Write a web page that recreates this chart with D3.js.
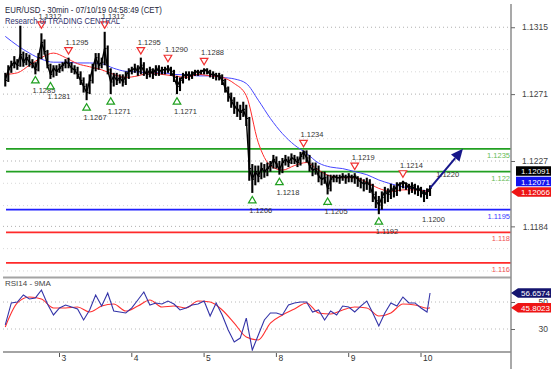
<!DOCTYPE html>
<html><head><meta charset="utf-8">
<script src="https://cdn.jsdelivr.net/npm/d3@7/dist/d3.min.js"></script>
<style>
body{margin:0;background:#fff}
svg{display:block}
text{font-family:"Liberation Sans",Arial,Helvetica,sans-serif}
</style>
</head><body>
<svg id="c" width="554" height="369"></svg>
<script>
// ---------- DATA ----------
const firstBarDay = 0.25;          // Jul 2, 06:00 (day 0 = Jul 2 00:00)
const barStepDays = 1 / 24;
const closes = [
1.1280,1.1287,1.1290,1.1292,1.1290,1.1297,1.1292,1.1295,1.1292,1.1291,
1.1287,1.1295,1.1305,1.1299,1.1290,1.1284,1.1288,1.1286,1.1288,1.1290,
1.1292,1.1291,1.1288,1.1287,1.1284,1.1280,1.1276,1.1272,1.1280,1.1288,
1.1295,1.1290,1.1292,1.1301,1.1287,1.1279,1.1283,1.1280,1.1282,1.1279,
1.1283,1.1286,1.1287,1.1288,1.1286,1.1290,1.1286,1.1284,1.1287,1.1284,
1.1288,1.1286,1.1287,1.1287,1.1288,1.1286,1.1282,1.1276,1.1280,1.1283,
1.1284,1.1283,1.1284,1.1286,1.1285,1.1286,1.1287,1.1286,1.1284,1.1284,
1.1283,1.1283,1.1280,1.1275,1.1271,1.1267,1.1263,1.1261,1.1259,1.1261,
1.1255,1.1222,1.1215,1.1220,1.1217,1.1222,1.1220,1.1222,1.1224,1.1228,
1.1225,1.1221,1.1226,1.1228,1.1226,1.1229,1.1228,1.1226,1.1230,1.1233,
1.1229,1.1224,1.1221,1.1222,1.1217,1.1215,1.1216,1.1209,1.1215,1.1217,
1.1216,1.1216,1.1217,1.1216,1.1217,1.1216,1.1217,1.1215,1.1213,1.1212,
1.1213,1.1211,1.1205,1.1201,1.1198,1.1203,1.1207,1.1205,1.1209,1.1207,
1.1211,1.1212,1.1213,1.1212,1.1209,1.1211,1.1208,1.1209,1.1207,1.1205,
1.1207,1.12091];
const highs = [
1.1285,1.1290,1.1293,1.1296,1.1294,1.1316,1.1299,1.1298,1.1297,1.1294,
1.1292,1.1298,1.1311,1.1307,1.1300,1.1291,1.1290,1.1290,1.1291,1.1292,
1.1294,1.1295,1.1292,1.1290,1.1289,1.1286,1.1282,1.1278,1.1284,1.1291,
1.1298,1.1298,1.1295,1.1312,1.1303,1.1288,1.1285,1.1285,1.1284,1.1284,
1.1286,1.1288,1.1289,1.1291,1.1290,1.1295,1.1292,1.1288,1.1289,1.1288,
1.1290,1.1290,1.1289,1.1289,1.1290,1.1289,1.1287,1.1283,1.1282,1.1285,
1.1286,1.1286,1.1286,1.1287,1.1287,1.1287,1.1288,1.1288,1.1287,1.1286,
1.1285,1.1285,1.1284,1.1281,1.1276,1.1272,1.1269,1.1266,1.1264,1.1266,
1.1264,1.1256,1.1225,1.1224,1.1224,1.1226,1.1225,1.1226,1.1227,1.1231,
1.1230,1.1227,1.1229,1.1231,1.1230,1.1232,1.1231,1.1230,1.1233,1.1234,
1.1234,1.1231,1.1226,1.1226,1.1224,1.1220,1.1220,1.1218,1.1218,1.1218,
1.1218,1.1218,1.1219,1.1218,1.1219,1.1218,1.1219,1.1217,1.1216,1.1215,
1.1216,1.1215,1.1212,1.1207,1.1204,1.1207,1.1210,1.1209,1.1212,1.1211,
1.1213,1.1213,1.1214,1.1213,1.1212,1.1213,1.1212,1.1211,1.1210,1.1208,
1.1209,1.1211];
const lows = [
1.1276,1.1279,1.1285,1.1288,1.1287,1.1289,1.1289,1.1290,1.1289,1.1288,
1.1284,1.1286,1.1294,1.1297,1.1288,1.1281,1.1282,1.1283,1.1285,1.1286,
1.1288,1.1288,1.1285,1.1284,1.1281,1.1277,1.1272,1.1267,1.1271,1.1278,
1.1286,1.1287,1.1288,1.1290,1.1284,1.1271,1.1276,1.1277,1.1278,1.1276,
1.1277,1.1281,1.1284,1.1285,1.1283,1.1284,1.1283,1.1281,1.1282,1.1281,
1.1283,1.1283,1.1284,1.1284,1.1285,1.1283,1.1279,1.1271,1.1273,1.1278,
1.1281,1.1280,1.1281,1.1283,1.1283,1.1284,1.1284,1.1284,1.1282,1.1281,
1.1280,1.1280,1.1277,1.1272,1.1266,1.1262,1.1258,1.1256,1.1254,1.1256,
1.1250,1.1214,1.1206,1.1211,1.1213,1.1215,1.1216,1.1217,1.1220,1.1222,
1.1222,1.1218,1.1219,1.1224,1.1223,1.1225,1.1225,1.1223,1.1224,1.1228,
1.1226,1.1220,1.1217,1.1218,1.1213,1.1211,1.1212,1.1205,1.1207,1.1213,
1.1213,1.1212,1.1214,1.1212,1.1213,1.1213,1.1212,1.1210,1.1209,1.1207,
1.1208,1.1206,1.1200,1.1196,1.1192,1.1195,1.1199,1.1200,1.1202,1.1203,
1.1204,1.1207,1.1209,1.1208,1.1205,1.1206,1.1205,1.1204,1.1203,1.1200,
1.1202,1.1204];

// moving averages sampled every 4 bars (+ last bar)
const maIdx = d3.range(0, 141, 4).concat([141]);
const maSlow = [1.1309,1.1303,1.1298,1.1294,1.1292,1.1292,1.12915,1.12915,1.1291,1.1288,
1.1286,1.12856,1.1285,1.1285,1.1284,1.12836,1.1283,1.1283,1.1282,1.1281,
1.1278,1.1267,1.1255,1.1245,1.12375,1.1232,1.12257,1.1223,1.1222,1.1220,
1.1218,1.12145,1.1212,1.1210,1.12086,1.12073,1.12071];
const maFast = [1.1284,1.1285,1.1290,1.1295,1.1298,1.1295,1.1291,1.1289,1.1287,1.1284,
1.1282,1.1283,1.1285,1.1284,1.1283,1.1282,1.1284,1.1283,1.1282,1.1278,
1.1270,1.1239,1.1224,1.1221,1.1224,1.1226,1.1221,1.1217,1.1216,1.1216,
1.1213,1.1209,1.1207,1.1208,1.1208,1.1207,1.12066];

// RSI sampled every 2 bars (+ last bar), its MA every 4 bars (+ last bar)
const rsiIdx = d3.range(0, 141, 2).concat([141]);
const rsi = [33.0,49.3,50.0,55.2,52.2,53.0,58.9,48.5,40.4,45.6,
47.8,46.3,44.8,36.7,44.1,55.2,47.0,56.7,43.3,42.6,
41.9,45.6,51.5,57.4,47.8,49.3,48.5,50.7,48.5,44.1,
45.6,47.8,48.5,50.7,39.6,49.3,40.4,29.3,20.4,23.3,
38.1,14.4,25.6,36.7,41.9,41.9,40.4,47.8,49.3,50.0,
50.0,42.6,44.1,36.7,43.3,40.4,47.0,46.3,42.6,47.0,
50.7,41.9,32.2,41.9,49.3,47.0,53.7,49.3,49.3,45.6,
42.6,56.6574];
const rsiMA = [31.5,49.3,53.7,52.2,45.6,45.6,46.3,42.6,47.0,48.5,
43.3,47.0,51.5,46.3,47.0,45.6,50.7,50.0,44.1,34.4,
24.1,21.9,34.4,40.4,44.8,49.3,41.9,41.1,44.1,46.3,
45.6,39.6,41.9,48.5,47.8,45.4,45.8023];

// swing highs / lows (bar index, price)
const swingHighIdx = [12,21,33,45,54,66,99,116,132];
const swingHighVal = [1.1312,1.1295,1.1312,1.1295,1.1290,1.1288,1.1234,1.1219,1.1214];
const swingLowIdx  = [10,15,27,35,57,82,91,107,124];
const swingLowVal  = [1.1285,1.1281,1.1267,1.1271,1.1271,1.1206,1.1218,1.1205,1.1192];
const extraLowIdx = [139];
const extraLowVal = [1.1200];
const noteDay = [6.21];
const noteVal = [1.1220];

// key levels
const levels = [1.1235, 1.1220, 1.1195, 1.1180, 1.1160];
const levelKind = ["res","res","pivot","sup","sup"];

// axis
const priceTicks = [1.1315, 1.1271, 1.1227, 1.1184];
const dayTicks = [1, 2, 3, 4, 5, 6];
const dayLabels = ["3","4","5","8","9","10"];
const rsiTicks = [50, 30];

// projection arrow target
const targetDay = 6.58, targetVal = 1.1235;

// last-value tags (first one sits on its value, others stack away from it)
const priceTags = [
  {v: 1.12066, txt: "1.12066", kind: "fast"},
  {v: 1.12071, txt: "1.12071", kind: "slow"},
  {v: 1.12091, txt: "1.12091", kind: "close"}];
const rsiTags = [
  {v: 56.6574, txt: "56.6574", kind: "rsi"},
  {v: 45.8023, txt: "45.8023", kind: "rsima"}];

// ---------- DRAW ----------
const svg = d3.select("#c");
const X0 = 3, X1 = 511, MAIN_B = 277.5, RSI_B = 352;

const x = d3.scaleLinear().domain([1, 6]).range([59.5, 421]);
const y = d3.scaleLinear().domain([1.1150, 1.1330]).range([278.04, 4.44]);
const yr = d3.scaleLinear().domain([30, 50]).range([329, 302]);
const barDay = i => firstBarDay + i * barStepDays;
const bx = i => x(barDay(i));

const defs = svg.append("defs");
defs.append("clipPath").attr("id","cm").append("rect")
  .attr("x",X0).attr("y",0).attr("width",X1-X0).attr("height",MAIN_B);
defs.append("clipPath").attr("id","cr").append("rect")
  .attr("x",X0).attr("y",MAIN_B).attr("width",X1-X0).attr("height",RSI_B-MAIN_B);

// grid main
const gMain = svg.append("g").attr("clip-path","url(#cm)");
const minor = [];
for (let k = 0; k < priceTicks.length; k++) {
  const step = (priceTicks[0]-priceTicks[1]) / 3;
  minor.push(priceTicks[k]-step, priceTicks[k]-2*step);
}
gMain.selectAll("line.mn").data(minor).join("line")
  .attr("x1",X0).attr("x2",X1).attr("y1",d=>y(d)).attr("y2",d=>y(d))
  .attr("stroke","#d8d8d8").attr("stroke-dasharray","1,3").attr("stroke-width",1);
gMain.selectAll("line.mj").data(priceTicks).join("line")
  .attr("x1",X0).attr("x2",X1).attr("y1",d=>y(d)).attr("y2",d=>y(d))
  .attr("stroke","#b0b0b0").attr("stroke-dasharray","1,3").attr("stroke-width",1);

// levels
const levelColor = {res:"#22a022", pivot:"#1f1fff", sup:"#ff2a2a"};
const levelText = {res:"#66bb55", pivot:"#3a3aff", sup:"#f05555"};
gMain.selectAll("line.lv").data(levels).join("line")
  .attr("x1",6).attr("x2",X1).attr("y1",d=>y(d)).attr("y2",d=>y(d))
  .attr("stroke",(d,i)=>levelColor[levelKind[i]]).attr("stroke-width",1.8);
gMain.selectAll("text.lv").data(levels).join("text")
  .attr("x",X1-1).attr("y",d=>y(d)+9).attr("text-anchor","end")
  .attr("font-size",7.5).attr("fill",(d,i)=>levelText[levelKind[i]])
  .text(d=>String(+d));

// moving averages
const maLine = d3.line().x((d,k)=>bx(maIdx[k])).y(d=>y(d)).curve(d3.curveMonotoneX);
gMain.append("path").datum(maSlow).attr("d",maLine).attr("fill","none")
  .attr("stroke","#4646ff").attr("stroke-width",1);
gMain.append("path").datum(maFast).attr("d",maLine).attr("fill","none")
  .attr("stroke","#ff2b2b").attr("stroke-width",1);

// price bars
gMain.append("path").datum(closes)
  .attr("d", d3.line().x((d,i)=>bx(i)).y(d=>y(d)))
  .attr("fill","none").attr("stroke","#000").attr("stroke-width",1.4);
gMain.selectAll("line.bar").data(closes).join("line")
  .attr("x1",(d,i)=>bx(i)).attr("x2",(d,i)=>bx(i))
  .attr("y1",(d,i)=>y(highs[i])).attr("y2",(d,i)=>y(lows[i]))
  .attr("stroke","#000").attr("stroke-width",2.1);
gMain.selectAll("line.cl").data(closes).join("line")
  .attr("x1",(d,i)=>bx(i)).attr("x2",(d,i)=>bx(i)+1.8)
  .attr("y1",d=>y(d)).attr("y2",d=>y(d))
  .attr("stroke","#000").attr("stroke-width",1.2);

// swing markers
const fmt4 = d3.format(".4f");
const labStyle = s => s.attr("font-size",7.5).attr("fill","#333");
swingHighIdx.forEach((bi,k)=>{
  const cx = bx(bi), cy = y(swingHighVal[k]) - 7;
  gMain.append("path").attr("d",`M${cx-3.8},${cy-3} L${cx+3.8},${cy-3} L${cx},${cy+3.5} Z`)
    .attr("fill","#fff").attr("stroke","#f03030").attr("stroke-width",1.2);
  labStyle(gMain.append("text").attr("x",cx-3).attr("y",cy-6).text(fmt4(swingHighVal[k])));
});
swingLowIdx.forEach((bi,k)=>{
  const cx = bx(bi), cy = y(swingLowVal[k]) + 7;
  gMain.append("path").attr("d",`M${cx-3.8},${cy+3} L${cx+3.8},${cy+3} L${cx},${cy-3.5} Z`)
    .attr("fill","#fff").attr("stroke","#20a020").attr("stroke-width",1.2);
  labStyle(gMain.append("text").attr("x",cx-3).attr("y",cy+13).text(fmt4(swingLowVal[k])));
});
extraLowIdx.forEach((bi,k)=>{
  labStyle(gMain.append("text").attr("x",bx(bi)-2).attr("y",y(extraLowVal[k])+20).text(fmt4(extraLowVal[k])));
});
noteDay.forEach((d,k)=>{
  labStyle(gMain.append("text").attr("x",x(d)).attr("y",y(noteVal[k])+5.5).text(fmt4(noteVal[k])));
});

// projection arrow
{
  const last = closes.length-1;
  const sx = bx(last), sy = y(closes[last]);
  const tx = x(targetDay), ty = y(targetVal);
  const ang = Math.atan2(ty-sy, tx-sx);
  const L = 12, W = 5.5;
  const bxp = tx - L*Math.cos(ang), byp = ty - L*Math.sin(ang);
  gMain.append("line").attr("x1",sx).attr("y1",sy).attr("x2",bxp).attr("y2",byp)
    .attr("stroke","#16168a").attr("stroke-width",2);
  const px = -Math.sin(ang)*W, py = Math.cos(ang)*W;
  gMain.append("path").attr("d",`M${tx},${ty} L${bxp+px},${byp+py} L${bxp-px},${byp-py} Z`)
    .attr("fill","#16168a");
}

// RSI panel
const gR = svg.append("g").attr("clip-path","url(#cr)");
gR.selectAll("line.g").data(rsiTicks).join("line")
  .attr("x1",X0).attr("x2",X1).attr("y1",d=>yr(d)).attr("y2",d=>yr(d))
  .attr("stroke","#b8b8b8").attr("stroke-dasharray","1,3");
gR.append("path").datum(rsiMA)
  .attr("d", d3.line().x((d,k)=>bx(maIdx[k])).y(d=>yr(d)).curve(d3.curveMonotoneX))
  .attr("fill","none").attr("stroke","#ff3030").attr("stroke-width",1.1);
gR.append("path").datum(rsi)
  .attr("d", d3.line().x((d,k)=>bx(rsiIdx[k])).y(d=>yr(d)))
  .attr("fill","none").attr("stroke","#3434a8").attr("stroke-width",1.1);
svg.append("text").attr("x",5).attr("y",286).attr("font-size",8).attr("fill","#444").text("RSI14 - 9MA");

// frame
svg.append("line").attr("x1",X0).attr("x2",X1).attr("y1",MAIN_B).attr("y2",MAIN_B)
  .attr("stroke","#a4a4a4").attr("stroke-width",2);
svg.append("line").attr("x1",X0).attr("x2",X1).attr("y1",RSI_B).attr("y2",RSI_B)
  .attr("stroke","#a4a4a4").attr("stroke-width",2);
svg.append("line").attr("x1",X1).attr("x2",X1).attr("y1",4).attr("y2",369)
  .attr("stroke","#8c8c8c").attr("stroke-width",1.5);

// right price axis
const ax = d3.axisRight(y).tickValues(priceTicks).tickSize(4).tickFormat(fmt4);
const ga = svg.append("g").attr("transform",`translate(${X1},0)`).call(ax);
ga.select(".domain").remove();
ga.selectAll("line").attr("stroke","#666");
ga.selectAll("text").attr("x",37).attr("text-anchor","end").attr("font-size",8.5)
  .attr("fill","#444").attr("font-family",null);

const axr = d3.axisRight(yr).tickValues(rsiTicks).tickSize(4).tickFormat(d3.format("d"));
const gar = svg.append("g").attr("transform",`translate(${X1},0)`).call(axr);
gar.select(".domain").remove();
gar.selectAll("line").attr("stroke","#666");
gar.selectAll("text").attr("x",37).attr("text-anchor","end").attr("font-size",8.5)
  .attr("fill","#444").attr("font-family",null);

// bottom day axis
const gx = svg.append("g");
dayTicks.forEach((d,k)=>{
  gx.append("line").attr("x1",x(d)).attr("x2",x(d)).attr("y1",RSI_B+1).attr("y2",RSI_B+5)
    .attr("stroke","#555");
  gx.append("text").attr("x",x(d)+2).attr("y",361).attr("font-size",8.5).attr("fill","#333")
    .text(dayLabels[k]);
});

// last value tags
const tagColor = {fast:"#ee1515", slow:"#1414ee", close:"#000", rsi:"#14146e", rsima:"#ee1515"};
function drawTags(tags, scale, h, dir) {
  let prev = null;
  tags.forEach((t,k)=>{
    let cy = scale(t.v);
    if (prev !== null) {
      cy = dir < 0 ? Math.min(cy, prev - h - 1) : Math.max(cy, prev + h + 1);
    }
    prev = cy;
    const arrow = Math.abs(cy - scale(t.v)) < 0.5;
    const x0 = 518, x1 = 551;
    if (arrow) {
      svg.append("path").attr("d",`M${X1},${cy} L${x0},${cy-h/2} L${x1},${cy-h/2} L${x1},${cy+h/2} L${x0},${cy+h/2} Z`)
        .attr("fill",tagColor[t.kind]);
    } else {
      svg.append("rect").attr("x",x0-2).attr("y",cy-h/2).attr("width",x1-x0+2).attr("height",h)
        .attr("fill",tagColor[t.kind]);
    }
    svg.append("text").attr("x",x1-1).attr("y",cy+3).attr("text-anchor","end")
      .attr("font-size",8).attr("fill","#fff").text(t.txt);
  });
}
drawTags(priceTags, y, 9.5, -1);
drawTags(rsiTags, yr, 9.5, 1);

// title
svg.append("text").attr("x",5).attr("y",13).attr("font-size",9.5).attr("fill","#1e1e3c")
  .attr("textLength",157).attr("lengthAdjust","spacingAndGlyphs")
  .text("EUR/USD - 30min - 07/10/19 04:58:49 (CET)");
svg.append("text").attr("x",5).attr("y",24).attr("font-size",9.5).attr("fill","#2e2e6a")
  .attr("textLength",115).attr("lengthAdjust","spacingAndGlyphs")
  .text("Research of TRADING CENTRAL");
</script>
</body></html>
